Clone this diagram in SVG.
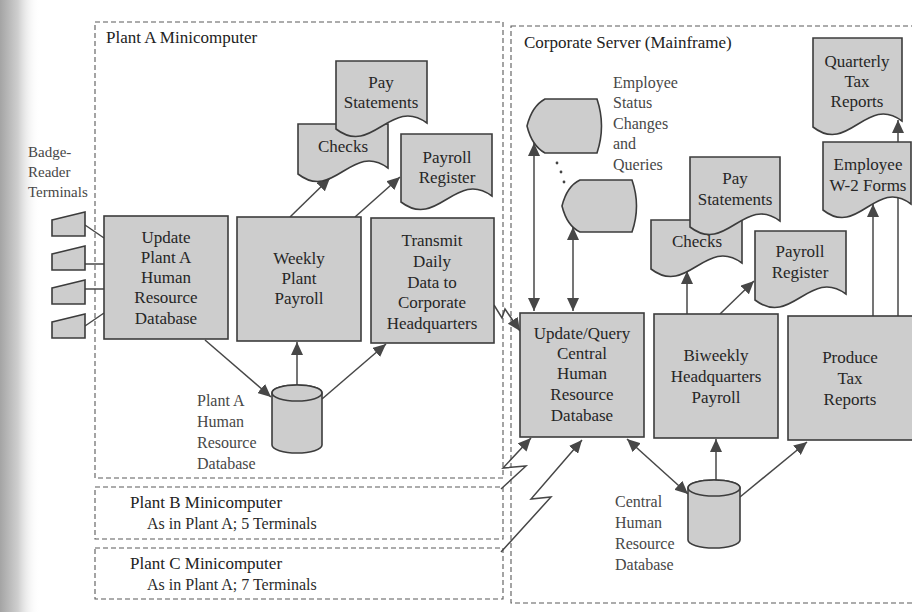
<svg xmlns="http://www.w3.org/2000/svg" width="912" height="612" viewBox="0 0 912 612">
  <defs>
    <linearGradient id="spine" x1="0" y1="0" x2="1" y2="0">
      <stop offset="0" stop-color="#a4a4a4"/>
      <stop offset="0.45" stop-color="#cfcfcf"/>
      <stop offset="1" stop-color="#ffffff" stop-opacity="0"/>
    </linearGradient>
    <marker id="ah" viewBox="0 0 13 12" refX="13" refY="6" markerWidth="13" markerHeight="12" markerUnits="userSpaceOnUse" orient="auto-start-reverse">
      <path d="M0,0 L13,6 L0,12 Z" fill="#474747"/>
    </marker>
    <style>
      .frame { fill: none; stroke: #5a5a5a; stroke-width: 1.1; stroke-dasharray: 5 3; }
      .box { fill: #cdcdcd; stroke: #3c3c3c; stroke-width: 1.6; }
      .conn { fill: none; stroke: #474747; stroke-width: 1.5; }
      .arr { marker-end: url(#ah); }
      .both { marker-start: url(#ah); marker-end: url(#ah); }
      .t { font-family: "Liberation Serif", "DejaVu Serif", serif; font-size: 17px; fill: #262626; text-anchor: middle; }
      .head { font-family: "Liberation Serif", "DejaVu Serif", serif; font-size: 17px; fill: #222; }
      .cap { font-family: "Liberation Serif", "DejaVu Serif", serif; font-size: 16px; fill: #474747; }
      .sub { font-family: "Liberation Serif", "DejaVu Serif", serif; font-size: 16px; fill: #2a2a2a; }
    </style>
  </defs>

  <rect x="0" y="0" width="912" height="612" fill="#ffffff"/>
  <rect x="0" y="0" width="40" height="612" fill="url(#spine)"/>

  <!-- system boundaries -->
  <g id="plant-a">
    <rect class="frame" x="95" y="22" width="408" height="456"/>
    <text class="head" x="106" y="43">Plant A Minicomputer</text>
  </g>
  <g id="plant-b">
    <rect class="frame" x="95" y="487" width="408" height="52"/>
    <text class="head" x="130" y="508">Plant B Minicomputer</text>
    <text class="sub" x="147" y="529">As in Plant A; 5 Terminals</text>
  </g>
  <g id="plant-c">
    <rect class="frame" x="95" y="548" width="408" height="51"/>
    <text class="head" x="130" y="569">Plant C Minicomputer</text>
    <text class="sub" x="147" y="590">As in Plant A; 7 Terminals</text>
  </g>
  <g id="corporate">
    <rect class="frame" x="511" y="26" width="420" height="577"/>
    <text class="head" x="524" y="48">Corporate Server (Mainframe)</text>
  </g>

  <!-- connectors -->
  <g id="connectors">
    <!-- badge readers to update process -->
    <path class="conn" d="M85,225 L104,238"/>
    <path class="conn" d="M85,264 L104,264"/>
    <path class="conn" d="M85,289 L104,289"/>
    <path class="conn" d="M85,326 L104,313"/>
    <!-- plant A flows -->
    <path class="conn arr" d="M205,340 L271,397"/>
    <path class="conn arr" d="M297,385 L297,342"/>
    <path class="conn arr" d="M322,399 L386,344"/>
    <path class="conn arr" d="M290,217 L330,178"/>
    <path class="conn arr" d="M355,217 L400,177"/>
    <!-- telecommunication links -->
    <path class="conn arr" d="M494,305 L502,318 L505,309 L520,331"/>
    <path class="conn arr" d="M501,489 L526,466 L503,468 L531,438"/>
    <path class="conn arr" d="M501,552 L551,497 L531,499 L582,440"/>
    <!-- corporate flows -->
    <path class="conn both" d="M534,143 L534,311"/>
    <path class="conn both" d="M573,227 L573,311"/>
    <path class="conn both" d="M627,439 L688,494"/>
    <path class="conn arr" d="M716,480 L716,439"/>
    <path class="conn arr" d="M740,497 L807,442"/>
    <path class="conn arr" d="M687,314 L687,271"/>
    <path class="conn arr" d="M720,314 L754,281"/>
    <path class="conn arr" d="M873,316 L873,204"/>
    <path class="conn arr" d="M898,316 L898,120"/>
  </g>

  <!-- badge-reader terminals -->
  <g id="terminals">
    <text class="cap" style="font-size:15px" x="28" y="157">Badge-</text>
    <text class="cap" style="font-size:15px" x="28" y="177">Reader</text>
    <text class="cap" style="font-size:15px" x="28" y="197">Terminals</text>
    <path class="box" d="M52,220 L85,212 L85,236 L52,236 Z"/>
    <path class="box" d="M52,254 L85,246 L85,270 L52,270 Z"/>
    <path class="box" d="M52,288 L85,280 L85,304 L52,304 Z"/>
    <path class="box" d="M52,322 L85,314 L85,338 L52,338 Z"/>
  </g>

  <g id="update-plant-a">
    <rect class="box" x="104" y="216" width="124" height="123"/>
    <text class="t" x="166" y="243">Update</text>
    <text class="t" x="166" y="263">Plant A</text>
    <text class="t" x="166" y="283">Human</text>
    <text class="t" x="166" y="303">Resource</text>
    <text class="t" x="166" y="324">Database</text>
  </g>

  <g id="weekly-payroll">
    <rect class="box" x="237" y="217" width="124" height="124"/>
    <text class="t" x="299" y="264">Weekly</text>
    <text class="t" x="299" y="284">Plant</text>
    <text class="t" x="299" y="304">Payroll</text>
  </g>

  <g id="transmit">
    <rect class="box" x="371" y="218" width="123" height="125"/>
    <text class="t" x="432" y="246">Transmit</text>
    <text class="t" x="432" y="267">Daily</text>
    <text class="t" x="432" y="288">Data to</text>
    <text class="t" x="432" y="308">Corporate</text>
    <text class="t" x="432" y="329">Headquarters</text>
  </g>

  <g id="plant-a-db">
    <path class="box" d="M272,393 V445 A25,8 0 0 0 322,445 V393 A25,8 0 0 0 272,393 Z"/>
    <ellipse class="box" cx="297" cy="393" rx="25" ry="8"/>
    <text class="cap" x="197" y="406">Plant A</text>
    <text class="cap" x="197" y="427">Human</text>
    <text class="cap" x="197" y="448">Resource</text>
    <text class="cap" x="197" y="469">Database</text>
  </g>

  <g id="plant-a-checks">
    <path class="box" d="M298,124 H388 V168 C352,141 334,202 298,174 Z"/>
    <text class="t" x="343" y="152">Checks</text>
  </g>
  <g id="plant-a-pay-statements">
    <path class="box" d="M336,61 H427 V123 C390.6,96 372.4,157 336,129 Z"/>
    <text class="t" x="381" y="88">Pay</text>
    <text class="t" x="381" y="108">Statements</text>
  </g>
  <g id="plant-a-payroll-register">
    <path class="box" d="M401,134 H492 V196 C455.6,169 437.4,230 401,202 Z"/>
    <text class="t" x="447" y="163">Payroll</text>
    <text class="t" x="447" y="183">Register</text>
  </g>

  <!-- corporate server -->
  <g id="status-displays">
    <path class="box" d="M545,99 H597 Q606,126 597,153 H545 Q532,146 527,126 Q532,106 545,99 Z"/>
    <path class="box" d="M580,180 H632 Q641,206 632,232 H580 Q567,226 562,206 Q567,186 580,180 Z"/>
    <circle cx="557" cy="163" r="1.4" fill="#444"/>
    <circle cx="561" cy="172" r="1.4" fill="#444"/>
    <circle cx="564" cy="182" r="1.4" fill="#444"/>
    <text class="cap" x="613" y="88">Employee</text>
    <text class="cap" x="613" y="108">Status</text>
    <text class="cap" x="613" y="129">Changes</text>
    <text class="cap" x="613" y="149">and</text>
    <text class="cap" x="613" y="170">Queries</text>
  </g>

  <g id="update-query-central">
    <rect class="box" x="520" y="313" width="124" height="124"/>
    <text class="t" x="582" y="339">Update/Query</text>
    <text class="t" x="582" y="359">Central</text>
    <text class="t" x="582" y="379">Human</text>
    <text class="t" x="582" y="400">Resource</text>
    <text class="t" x="582" y="421">Database</text>
  </g>

  <g id="biweekly-payroll">
    <rect class="box" x="654" y="314" width="124" height="124"/>
    <text class="t" x="716" y="361">Biweekly</text>
    <text class="t" x="716" y="382">Headquarters</text>
    <text class="t" x="716" y="403">Payroll</text>
  </g>

  <g id="produce-tax-reports">
    <rect class="box" x="788" y="316" width="126" height="124"/>
    <text class="t" x="850" y="363">Produce</text>
    <text class="t" x="850" y="384">Tax</text>
    <text class="t" x="850" y="405">Reports</text>
  </g>

  <g id="central-db">
    <path class="box" d="M688,488 V540 A26,8 0 0 0 740,540 V488 A26,8 0 0 0 688,488 Z"/>
    <ellipse class="box" cx="714" cy="488" rx="26" ry="8"/>
    <text class="cap" x="615" y="507">Central</text>
    <text class="cap" x="615" y="528">Human</text>
    <text class="cap" x="615" y="549">Resource</text>
    <text class="cap" x="615" y="570">Database</text>
  </g>

  <g id="hq-checks">
    <path class="box" d="M651,220 H742 V263 C705.6,236 687.4,297 651,269 Z"/>
    <text class="t" x="697" y="247">Checks</text>
  </g>
  <g id="hq-pay-statements">
    <path class="box" d="M690,157 H780 V221 C744,194 726,255 690,227 Z"/>
    <text class="t" x="735" y="184">Pay</text>
    <text class="t" x="735" y="205">Statements</text>
  </g>
  <g id="hq-payroll-register">
    <path class="box" d="M755,231 H846 V294 C809.6,267 791.4,328 755,300 Z"/>
    <text class="t" x="800" y="257">Payroll</text>
    <text class="t" x="800" y="278">Register</text>
  </g>
  <g id="quarterly-tax-reports">
    <path class="box" d="M813,38 H902 V121 C866.4,94 848.6,155 813,127 Z"/>
    <text class="t" x="857" y="67">Quarterly</text>
    <text class="t" x="857" y="87">Tax</text>
    <text class="t" x="857" y="107">Reports</text>
  </g>
  <g id="w2-forms">
    <path class="box" d="M823,142 H911 V204 C875.8,177 858.2,238 823,210 Z"/>
    <text class="t" x="868" y="170">Employee</text>
    <text class="t" x="868" y="191">W-2 Forms</text>
  </g>
</svg>
